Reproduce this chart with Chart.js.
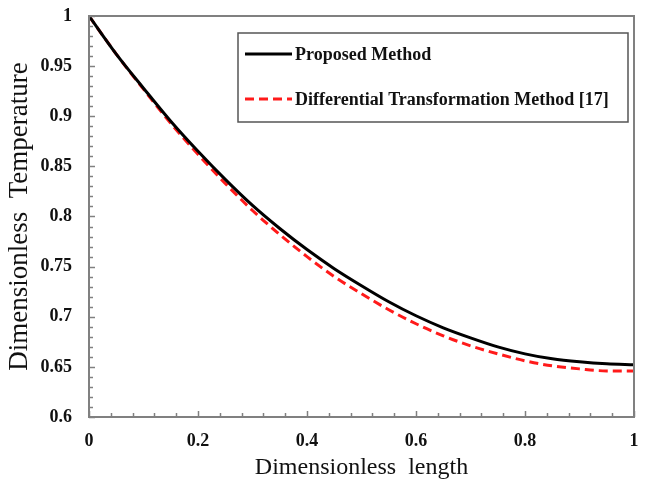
<!DOCTYPE html>
<html>
<head>
<meta charset="utf-8">
<script src="https://cdn.jsdelivr.net/npm/chart.js@4.4.1/dist/chart.umd.min.js"></script>
<style>
html,body{margin:0;padding:0;background:#fff;}
#wrap{width:645px;height:486px;position:relative;}
</style>
</head>
<body>
<div id="wrap"><canvas id="c" width="645" height="486"></canvas></div>
<script>
const xValues = [0,0.05,0.1,0.15,0.2,0.25,0.3,0.35,0.4,0.45,0.5,0.55,0.6,0.65,0.7,0.75,0.8,0.85,0.9,0.95,1];
const proposed = [1.000,0.962,0.928,0.895,0.865,0.837,0.811,0.788,0.767,0.748,0.731,0.715,0.701,0.689,0.679,0.670,0.663,0.658,0.655,0.653,0.652];
const dtm = [1.000,0.962,0.927,0.893,0.862,0.833,0.806,0.782,0.760,0.740,0.723,0.707,0.693,0.681,0.671,0.663,0.656,0.651,0.648,0.646,0.646];
const seriesNames = ["Proposed Method","Differential Transformation Method [17]"];
const xTicks = [0,0.2,0.4,0.6,0.8,1];
const yTicks = [0.6,0.65,0.7,0.75,0.8,0.85,0.9,0.95,1];

const FRAME = '#808080';
const SERIF = '"Liberation Serif","Times New Roman",serif';

const innerTicks = {
  id:'innerTicks',
  afterDatasetsDraw(chart){
    const ctx = chart.ctx, a = chart.chartArea;
    const xs = chart.scales.x, ys = chart.scales.y;
    ctx.save();
    ctx.strokeStyle = FRAME;
    ctx.lineWidth = 2;
    ctx.strokeRect(a.left, a.top, a.right - a.left, a.bottom - a.top);
    ctx.lineWidth = 1.5;
    for (let i = 0; i <= 25; i++) {
      const v = i * 0.04;
      const px = Math.round(xs.getPixelForValue(v)) + 0.5;
      const major = (i % 5 === 0);
      ctx.beginPath();
      ctx.moveTo(px, a.bottom);
      ctx.lineTo(px, a.bottom - (major ? 6 : 4));
      ctx.stroke();
    }
    for (let i = 0; i <= 40; i++) {
      const v = 0.6 + i * 0.01;
      const py = Math.round(ys.getPixelForValue(v)) + 0.5;
      const major = (i % 5 === 0);
      ctx.beginPath();
      ctx.moveTo(a.left, py);
      ctx.lineTo(a.left + (major ? 6 : 4), py);
      ctx.stroke();
    }
    ctx.restore();
  }
};

const boxLegend = {
  id:'boxLegend',
  afterDraw(chart){
    const ctx = chart.ctx;
    const x0 = 238, y0 = 33, w = 390, h = 89;
    ctx.save();
    ctx.fillStyle = '#fff';
    ctx.fillRect(x0, y0, w, h);
    ctx.strokeStyle = '#555';
    ctx.lineWidth = 1.5;
    ctx.strokeRect(x0, y0, w, h);
    const rows = [54, 99];
    chart.data.datasets.forEach((ds, i) => {
      const y = rows[i];
      ctx.beginPath();
      ctx.strokeStyle = ds.borderColor;
      ctx.lineWidth = 3;
      ctx.setLineDash(ds.borderDash || []);
      ctx.moveTo(245, y);
      ctx.lineTo(292, y);
      ctx.stroke();
      ctx.setLineDash([]);
      ctx.fillStyle = '#111';
      ctx.font = 'bold 18px ' + SERIF;
      ctx.textBaseline = 'middle';
      ctx.textAlign = 'left';
      ctx.fillText(ds.label, 295, y + 1);
    });
    ctx.restore();
  }
};

new Chart(document.getElementById('c'), {
  type: 'line',
  data: {
    datasets: [
      {
        label: seriesNames[0],
        data: xValues.map((x, i) => ({x: x, y: proposed[i]})),
        borderColor: '#000000',
        borderWidth: 3,
        pointRadius: 0,
        cubicInterpolationMode: 'monotone',
        fill: false
      },
      {
        label: seriesNames[1],
        data: xValues.map((x, i) => ({x: x, y: dtm[i]})),
        borderColor: '#ff1a1a',
        borderWidth: 3,
        borderDash: [9, 5],
        pointRadius: 0,
        cubicInterpolationMode: 'monotone',
        fill: false
      }
    ]
  },
  options: {
    responsive: false,
    animation: false,
    layout: { padding: { left: 0, right: 11, top: 16, bottom: 0 } },
    plugins: { legend: { display: false }, tooltip: { enabled: false } },
    scales: {
      x: {
        type: 'linear',
        min: 0, max: 1,
        afterBuildTicks: s => { s.ticks = xTicks.map(v => ({value: v})); },
        afterFit: s => { s.height = 69; s.paddingLeft = 0; s.paddingRight = 0; },
        grid: { display: false, drawTicks: false },
        border: { display: false },
        ticks: {
          padding: 14,
          color: '#111',
          font: { family: SERIF, size: 18, weight: 'bold' },
          callback: v => String(+v.toFixed(2))
        },
        title: {
          display: true,
          text: 'Dimensionless  length',
          color: '#111',
          font: { family: SERIF, size: 24 },
          padding: { top: 0, bottom: 4 }
        }
      },
      y: {
        type: 'linear',
        min: 0.6, max: 1,
        afterBuildTicks: s => { s.ticks = yTicks.map(v => ({value: v})); },
        afterFit: s => { s.width = 89; s.paddingTop = 0; s.paddingBottom = 0; },
        grid: { display: false, drawTicks: false },
        border: { display: false },
        ticks: {
          padding: 17,
          color: '#111',
          font: { family: SERIF, size: 18, weight: 'bold' },
          callback: v => String(+v.toFixed(2))
        },
        title: {
          display: true,
          text: 'Dimensionless  Temperature',
          color: '#111',
          font: { family: SERIF, size: 27 },
          padding: { top: 4, bottom: 0 }
        }
      }
    }
  },
  plugins: [innerTicks, boxLegend]
});
</script>
</body>
</html>
